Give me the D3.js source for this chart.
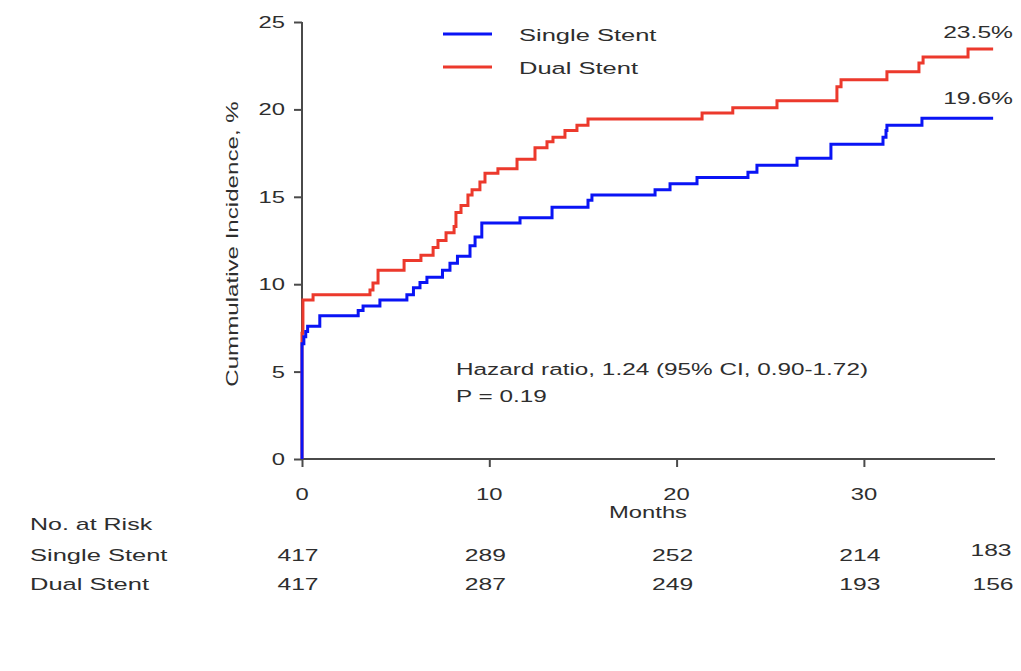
<!DOCTYPE html>
<html>
<head>
<meta charset="utf-8">
<script src="https://cdn.jsdelivr.net/npm/d3@7"></script>
<style>
  html, body { margin: 0; padding: 0; background: #fff; }
  svg { display: block; font-family: Arial, "Liberation Sans", sans-serif; }
</style>
</head>
<body>
<svg id="chart" width="1021" height="671"></svg>
<script>
// ---------- data ----------
const seriesNames = ["Single Stent", "Dual Stent"];
const singleMonths = [0, 0, 0.1, 0.2, 0.3, 0.95, 3.0, 3.26, 4.16, 5.6, 5.95, 6.3, 6.67, 7.5, 7.9, 8.3, 8.97, 9.24, 9.6, 11.64, 13.35, 15.27, 15.48, 18.85, 19.65, 21.09, 23.81, 24.29, 26.43, 28.24, 31.02, 31.18, 31.23, 33.1, 36.9];
const singleValues = [0, 6.6, 7.0, 7.3, 7.6, 8.2, 8.5, 8.75, 9.1, 9.4, 9.8, 10.1, 10.4, 10.8, 11.2, 11.6, 12.2, 12.7, 13.5, 13.8, 14.4, 14.8, 15.1, 15.4, 15.75, 16.1, 16.4, 16.8, 17.2, 18.0, 18.4, 18.8, 19.1, 19.5, 19.5];
const dualMonths = [0, 0, 0.05, 0.59, 3.63, 3.79, 4.06, 5.45, 6.35, 7.0, 7.26, 7.69, 8.12, 8.22, 8.49, 8.86, 9.08, 9.5, 9.77, 10.46, 11.48, 12.44, 13.08, 13.4, 14.04, 14.68, 15.27, 21.36, 23.0, 25.36, 28.56, 28.78, 31.23, 32.94, 33.16, 35.56, 36.9];
const dualValues = [0, 7.2, 9.1, 9.4, 9.67, 10.07, 10.8, 11.35, 11.65, 12.1, 12.5, 12.95, 13.3, 14.1, 14.5, 15.1, 15.4, 15.85, 16.35, 16.6, 17.15, 17.8, 18.15, 18.4, 18.8, 19.1, 19.45, 19.8, 20.1, 20.5, 21.3, 21.7, 22.15, 22.65, 23.0, 23.45, 23.45];
const finalLabels = ["19.6%", "23.5%"];
const xTicks = [0, 10, 20, 30];
const yTicks = [0, 5, 10, 15, 20, 25];
const riskMonths = [0, 10, 20, 30, 37];
const riskSingle = [417, 289, 252, 214, 183];
const riskDual = [417, 287, 249, 193, 156];
const hazardText = "Hazard ratio, 1.24 (95% CI, 0.90-1.72)";
const pText = "P = 0.19";

// ---------- layout ----------
const svg = d3.select("#chart");
const colors = ["#0a14f5", "#ec392c"];
const textColor = "#2e2e2e";
const SX = 1.45;   // horizontal stretch of the glyphs
const FS = 17;

const x = d3.scaleLinear().domain([0, 37]).range([302, 995]);
const y = d3.scaleLinear().domain([0, 25]).range([459, 22]);

function txt(px, py, s, anchor, opts = {}) {
  return svg.append("text")
    .attr("transform", `translate(${px},${py}) ${opts.rotate ? "rotate(-90)" : ""} scale(${opts.sx || SX},1)`)
    .attr("text-anchor", anchor || "start")
    .attr("font-size", opts.size || FS)
    .attr("fill", textColor)
    .text(s);
}

// axes
const yAxis = svg.append("g").attr("transform", "translate(302,0)")
  .call(d3.axisLeft(y).tickValues(yTicks).tickSize(8).tickFormat(""));
const xAxis = svg.append("g").attr("transform", "translate(0,459)")
  .call(d3.axisBottom(x).tickValues(xTicks).tickSize(8).tickFormat("").tickSizeOuter(0));
[yAxis, xAxis].forEach(a => {
  a.selectAll("path, line").attr("stroke", "#4a4a4a").attr("stroke-width", 2);
});
yAxis.select("path.domain").attr("d", `M0,${y(0)}V${y(25)}`);
xAxis.select("path.domain").attr("d", `M${x(0)},0H${x(37)}`);

yTicks.forEach(v => txt(285, y(v) + 6, String(v), "end", { sx: 1.4 }));
xTicks.forEach(v => txt(x(v), 500, String(v), "middle", { sx: 1.4 }));
txt(648, 518, "Months", "middle", { sx: 1.4 });
txt(238, 244, "Cummulative Incidence, %", "middle", { rotate: true, sx: 1.42 });

// curves
const line = d3.line().x(d => x(d[0])).y(d => y(d[1])).curve(d3.curveStepAfter);
const curves = [d3.zip(singleMonths, singleValues), d3.zip(dualMonths, dualValues)];
// draw dual first, then single on top
[1, 0].forEach(i => {
  svg.append("path").datum(curves[i])
    .attr("d", line).attr("fill", "none")
    .attr("stroke", colors[i]).attr("stroke-width", 3)
    .attr("stroke-linejoin", "miter");
});

// final labels
txt(1013, 38, finalLabels[1], "end");
txt(1013, 104, finalLabels[0], "end");

// legend
seriesNames.forEach((n, i) => {
  const ly = 34 + i * 33;
  svg.append("line").attr("x1", 443).attr("x2", 492).attr("y1", ly).attr("y2", ly)
    .attr("stroke", colors[i]).attr("stroke-width", 3);
  txt(519, ly + 7, n, "start", { sx: 1.5 });
});

// annotation
txt(456, 375, hazardText, "start", { sx: 1.43 });
txt(456, 402, pText, "start", { sx: 1.43 });

// risk table
txt(30, 530, "No. at  Risk", "start", { sx: 1.47 });
txt(30, 561, seriesNames[0], "start", { sx: 1.5 });
txt(30, 590, seriesNames[1], "start", { sx: 1.5 });
riskMonths.forEach((m, i) => {
  const last = i === riskMonths.length - 1;
  txt(x(m) - 4, last ? 556 : 561, String(riskSingle[i]), "middle");
  txt(x(m) - 4 + (last ? 2 : 0), 590, String(riskDual[i]), "middle");
});
</script>
</body>
</html>
